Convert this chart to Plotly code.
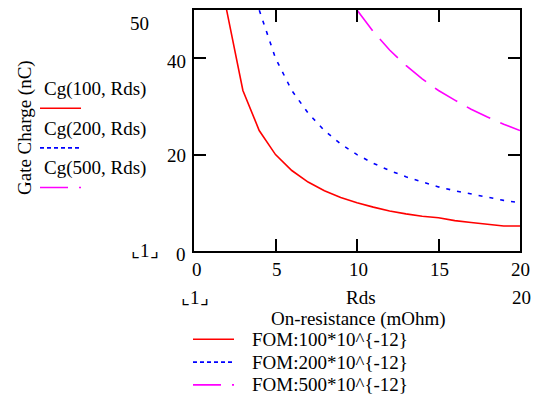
import plotly.graph_objects as go

rds = [1, 2, 3, 4, 5, 6, 7, 8, 9, 10, 11, 12, 13, 14, 15, 16, 17, 18, 19, 20]
cg100 = [100, 50, 33.3, 25, 20, 16.7, 14.3, 12.5, 11.1, 10, 9.1, 8.3, 7.7, 7.2, 6.9, 6.3, 5.9, 5.6, 5.2, 5.2]
cg200 = [200, 100, 66.7, 50, 40, 33.3, 28.6, 25, 22.2, 20, 18.2, 16.7, 15.4, 14.3, 13.3, 12.5, 11.8, 11.1, 10.5, 10.0]
rds500 = [10, 11, 12, 13, 14, 15, 16, 17, 18, 19, 20]
cg500 = [50, 45.5, 41.7, 38.5, 35.7, 33.3, 31.3, 29.4, 27.8, 26.3, 25]

x_ticks = [0, 5, 10, 15, 20]
y_ticks = [0, 20, 40]
left_labels = ["Cg(100, Rds)", "Cg(200, Rds)", "Cg(500, Rds)"]
fom_labels = ["FOM:100*10^{-12}", "FOM:200*10^{-12}", "FOM:500*10^{-12}"]
colors = ["#ff0000", "#0000ff", "#ff00ff"]
plot_dash = ["solid", "4px,7px", "26px,11px"]
legend_dash = ["solid", "4px,3px", "28px,11px"]

FONT = "'Times New Roman', 'Liberation Serif', 'DejaVu Serif', serif"
FS = 19
W, H = 542, 402
L, R, T, B = 194, 520, 8, 251

def px(x):
    return (x - L) / (R - L)

def py(y):
    return (B - y) / (B - T)

fig = go.Figure()
for xs, ys, c, d in [(rds, cg100, colors[0], plot_dash[0]),
                     (rds, cg200, colors[1], plot_dash[1]),
                     (rds500, cg500, colors[2], plot_dash[2])]:
    fig.add_trace(go.Scatter(x=xs, y=ys, mode="lines",
                             line=dict(color=c, width=1.6, dash=d),
                             showlegend=False, hoverinfo="skip"))

ann = []
def txt(x, y, s, xanchor="center", angle=0):
    ann.append(dict(x=px(x), y=py(y), xref="paper", yref="paper", text=s,
                    showarrow=False, xanchor=xanchor, yanchor="middle",
                    textangle=angle, font=dict(family=FONT, size=FS, color="black")))

for v, xp in zip(x_ticks, [197, 277, 358, 439, 520]):
    txt(xp, 270, str(v))
txt(139, 22, "50")
txt(176, 60, "40")
txt(176, 155, "20")
txt(181, 255, "0")
txt(145, 250, "⌞1⌟")
txt(195, 298, "⌞1⌟")
txt(361, 298, "Rds")
txt(521, 298, "20")
txt(358, 320, "On-resistance (mOhm)")
txt(25, 127, "Gate Charge (nC)", angle=-90)

shapes = []
for i, (lab, ly, ll) in enumerate(zip(left_labels, [88, 128, 167], [107, 147, 187])):
    txt(95, ly, lab)
    shapes.append(dict(type="line", xref="paper", yref="paper",
                       x0=px(40), x1=px(81), y0=py(ll), y1=py(ll),
                       line=dict(color=colors[i], width=1.6, dash=legend_dash[i])))

for i, (lab, ly) in enumerate(zip(fom_labels, [340, 363, 386])):
    txt(250, ly, lab, xanchor="left")
    shapes.append(dict(type="line", xref="paper", yref="paper",
                       x0=px(193), x1=px(234), y0=py(ly), y1=py(ly),
                       line=dict(color=colors[i], width=1.6, dash=legend_dash[i])))

fig.update_layout(
    width=W, height=H,
    margin=dict(l=L, r=W - R, t=T, b=H - B),
    paper_bgcolor="white", plot_bgcolor="white",
    font=dict(family=FONT, size=FS, color="black"),
    annotations=ann, shapes=shapes,
    xaxis=dict(range=[0, 20], showgrid=False, zeroline=False, showline=True,
               linecolor="black", linewidth=2, mirror="ticks", ticks="inside",
               ticklen=12, tickwidth=2, tickcolor="black",
               tickvals=[5, 10, 15], showticklabels=False, fixedrange=True),
    yaxis=dict(range=[0, 50], showgrid=False, zeroline=False, showline=True,
               linecolor="black", linewidth=2, mirror="ticks", ticks="inside",
               ticklen=12, tickwidth=2, tickcolor="black",
               tickvals=[20, 40], showticklabels=False, fixedrange=True),
)

fig.write_html("out.html", config={"displayModeBar": False},
               post_script="document.body.style.margin='0px';")
